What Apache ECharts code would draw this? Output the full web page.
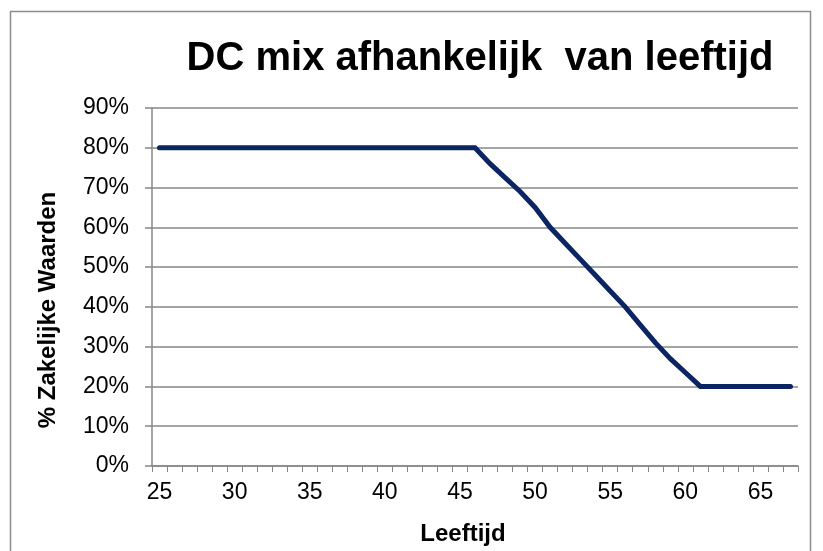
<!DOCTYPE html>
<html>
<head>
	<meta charset="utf-8">
	<title>DC mix</title>
	<script src="https://cdn.jsdelivr.net/npm/echarts@6/dist/echarts.min.js"></script>
	<style>
		html, body { margin: 0; padding: 0; background: #fff; }
	</style>
</head>
<body>
	<div id="container" style="width: 823px;height:551px;"></div>
	<script type="text/javascript">
		// leeftijden 25 t/m 67
		var leeftijd = ['25','26','27','28','29','30','31','32','33','34','35','36','37','38','39','40',
			'41','42','43','44','45','46','47','48','49','50','51','52','53','54','55','56','57','58',
			'59','60','61','62','63','64','65','66','67'];
		// aandeel zakelijke waarden per leeftijd
		var zakelijk = [0.80,0.80,0.80,0.80,0.80,0.80,0.80,0.80,0.80,0.80,0.80,0.80,0.80,0.80,0.80,0.80,
			0.80,0.80,0.80,0.80,0.80,0.80,0.76,0.725,0.69,0.65,0.60,0.56,0.52,0.48,0.44,0.40,0.355,0.31,
			0.27,0.235,0.20,0.20,0.20,0.20,0.20,0.20,0.20];
		var titel = 'DC mix afhankelijk  van leeftijd';
		var xNaam = 'Leeftijd';
		var yNaam = '% Zakelijke Waarden';

		var font = '"Liberation Sans", Arial, sans-serif';
		var grijs = '#878787';

		var myChart = echarts.init(document.getElementById('container'));
		myChart.setOption({
			animation: false,
			title: {
				text: titel,
				left: 475,
				top: 34,
				textAlign: 'center',
				textStyle: { fontFamily: font, fontSize: 40, fontWeight: 'bold', color: '#000' }
			},
			grid: { left: 152, right: 25, top: 108, bottom: 84 },
			graphic: [
				{
					type: 'rect',
					shape: { x: 10.5, y: 11.5, width: 800, height: 560 },
					style: { fill: null, stroke: '#8c8c8c', lineWidth: 1.5 },
					silent: true
				},
				{
					type: 'text',
					x: 48,
					y: 310,
					rotation: Math.PI / 2,
					style: {
						text: yNaam,
						font: 'bold 24px ' + font,
						fill: '#000',
						align: 'center',
						verticalAlign: 'middle'
					}
				}
			],
			xAxis: {
				type: 'category',
				data: leeftijd,
				boundaryGap: true,
				name: xNaam,
				nameLocation: 'middle',
				nameGap: 56,
				nameTextStyle: { fontFamily: font, fontSize: 24, fontWeight: 'bold', color: '#000', padding: [0, 24, 0, 0] },
				axisLine: { lineStyle: { color: grijs, width: 1.5 } },
				axisTick: { show: true, interval: 0, length: 6, lineStyle: { color: grijs, width: 1 } },
				axisLabel: { interval: 4, margin: 15, fontFamily: font, fontSize: 23, color: '#000' },
				splitLine: { show: false }
			},
			yAxis: {
				type: 'value',
				min: 0,
				max: 0.9,
				interval: 0.1,
				axisLine: { show: true, lineStyle: { color: grijs, width: 1.5 } },
				axisTick: { show: true, length: 7, lineStyle: { color: grijs, width: 1.5 } },
				axisLabel: {
					margin: 23,
					fontFamily: font,
					fontSize: 23,
					color: '#000',
					formatter: function (v) { return Math.round(v * 100) + '%'; }
				},
				splitLine: { show: true, lineStyle: { color: grijs, width: 1.5 } }
			},
			series: [
				{
					type: 'line',
					data: zakelijk,
					symbol: 'none',
					lineStyle: { color: '#0b2562', width: 5, cap: 'round', join: 'miter' }
				}
			]
		});
	</script>
</body>
</html>
